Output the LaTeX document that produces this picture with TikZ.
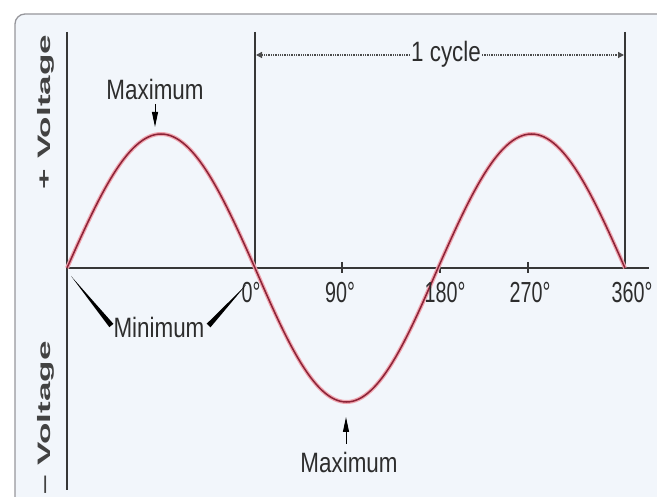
\documentclass[tikz,border=0pt]{standalone}
\usepackage{fontspec}
\setmainfont{Liberation Sans}
\newfontfamily\narrowfont{Liberation Sans}[FakeStretch=0.8]
\newfontfamily\degfont{Liberation Sans}[FakeStretch=0.68]
\newfontfamily\widefont{Liberation Sans}[FakeStretch=1.95]
\usetikzlibrary{arrows.meta, calc}
\definecolor{PanelFill}{RGB}{242,246,251}
\definecolor{PanelLine}{RGB}{150,150,155}
\definecolor{AxisGray}{RGB}{55,55,55}
\definecolor{TextGray}{RGB}{45,45,45}
\definecolor{WaveRed}{RGB}{140,35,55}
\definecolor{WaveGlow}{RGB}{240,165,175}

\begin{document}
\begin{tikzpicture}[
    x=1pt, y=-1pt,
    panel/.style={draw=PanelLine, line width=1.3pt, fill=PanelFill, rounded corners=10pt},
    axis/.style={draw=AxisGray, line width=1.6pt},
    marker/.style={draw=AxisGray, line width=1.2pt},
    wavehalo/.style={draw=WaveGlow, line width=4pt},
    wave/.style={draw=WaveRed, line width=1.5pt},
    lbl/.style={font=\narrowfont\fontsize{28}{28}\selectfont, text=TextGray,
        inner sep=1pt, anchor=base},
    deg/.style={font=\degfont\fontsize{29}{29}\selectfont, text=TextGray,
        inner sep=1pt, anchor=base},
    vlbl/.style={font=\widefont\bfseries\fontsize{18}{18}\selectfont,
        text=TextGray!90, rotate=90},
    pointer/.style={-{Triangle[length=15pt, width=6pt]}, line width=1pt, draw=black},
    cyc/.style={densely dotted, line width=1.3pt, draw=TextGray!85,
        -{Triangle[length=6pt, width=6pt]}},
    wedge/.style={fill=black}
]
\useasboundingbox (0,0) rectangle (657,497);
\clip (0,0) rectangle (657,497);

% panel
\path[panel] (15,14) rectangle (675,512);

% axes
\coordinate (origin) at (67,268);
\coordinate (zero) at (255,268);
\coordinate (full) at (625,268);
\draw[axis] (67,32) -- (67,490);
\draw[axis] (origin) -- (649,268);
\draw[marker] (255,32) -- (zero);
\draw[marker] (625,32) -- (full);
\foreach \tx in {342,440,528}
    \draw[marker] (\tx,262) -- (\tx,273);

% sine wave, one half cycle at a time
\foreach \a/\b/\s in {67/255/1, 255/438/-1, 438/625/1}
    \draw[wavehalo] plot[domain=0:180, samples=61, smooth]
        ({\a+(\b-\a)*(\x/180)}, {268-134*\s*sin(\x)});
\foreach \a/\b/\s in {67/255/1, 255/438/-1, 438/625/1}
    \draw[wave] plot[domain=0:180, samples=61, smooth]
        ({\a+(\b-\a)*(\x/180)}, {268-134*\s*sin(\x)});

% degree labels
\node[deg] (d0) at (251,303) {0°};
\node[deg] (d90) at (340,303) {90°};
\node[deg] (d180) at (445,303) {180°};
\node[deg] (d270) at (530,303) {270°};
\node[deg] (d360) at (632,303) {360°};

% voltage labels
\node[vlbl] (vplus) at (46,112) {+ Voltage};
\node[vlbl] (vminus) at (46,418) {– Voltage};

% one cycle
\node[lbl] (cycle) at (446,62) {1 cycle};
\coordinate (cycL) at (256,55);
\coordinate (cycR) at (624,55);
\draw[cyc] (cycle.west |- cycL) -- (cycL);
\draw[cyc] (cycle.east |- cycR) -- (cycR);

% maxima
\node[lbl] (maxtop) at (155,100) {Maximum};
\coordinate (peakA) at (155,127);
\draw[pointer] (155,104) -- (peakA);

\node[lbl] (maxbot) at (349,473) {Maximum};
\coordinate (trough) at (346,417);
\draw[pointer] (346,444) -- (trough);

% minima
\node[lbl] (minlbl) at (159,338) {Minimum};
\coordinate (minL) at (71,276);
\coordinate (minR) at (246,285);
\coordinate (wL) at ($(minlbl.north west)+(-1,9)$);
\coordinate (wR) at ($(minlbl.north east)+(3,9)$);
\fill[wedge] (minL) -- ($(wL)!2.6pt!90:(minL)$) -- ($(wL)!2.6pt!-90:(minL)$) -- cycle;
\fill[wedge] (minR) -- ($(wR)!2.6pt!90:(minR)$) -- ($(wR)!2.6pt!-90:(minR)$) -- cycle;

\end{tikzpicture}
\end{document}
